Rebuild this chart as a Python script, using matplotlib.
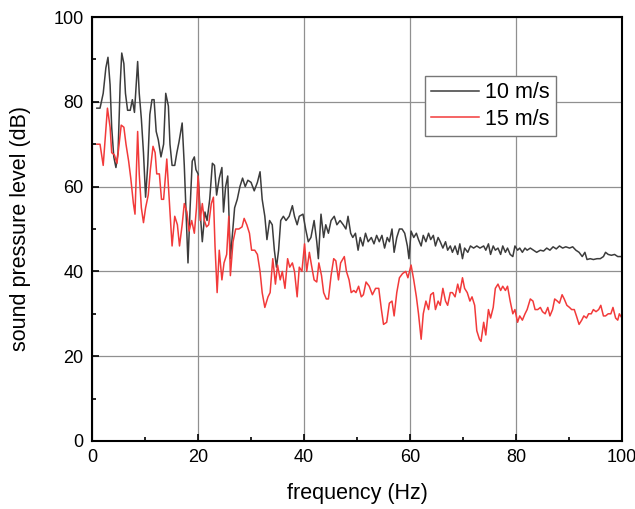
import matplotlib
matplotlib.use("Agg")
import matplotlib.pyplot as plt
from matplotlib.ticker import MultipleLocator

plt.rcParams['font.family'] = ['Liberation Sans', 'DejaVu Sans']

# 10 m/s
f10 = [0.9, 1.5, 2.1, 2.6, 3.0, 3.4, 3.7, 4.1, 4.5, 4.9, 5.3, 5.6, 6.0, 6.3, 6.7, 7.2, 7.6, 8.0,
       8.6, 8.9, 9.3, 9.7, 10.1, 10.5, 10.9, 11.3, 11.7, 12.1, 12.5, 13.0, 13.5, 13.9, 14.4, 14.7,
       15.1, 15.6, 16.0, 16.4, 17.0, 17.4, 17.7, 18.1, 18.5, 18.9, 19.3, 19.6, 20.0, 20.4, 20.8,
       21.3, 21.7, 22.2, 22.7, 23.1, 23.5, 24.0, 24.5, 24.8, 25.2, 25.6, 26.1, 26.5, 26.9, 27.4,
       27.9, 28.4, 28.9, 29.4, 30.0, 30.6, 31.2, 31.7, 32.1, 32.6, 33.0, 33.5, 34.0, 34.4, 34.8,
       35.2, 35.6, 36.1, 36.6, 37.2, 37.8, 38.2, 38.7, 39.1, 39.8, 40.3, 40.8, 41.3, 41.9, 42.4,
       42.7, 43.2, 43.7, 44.1, 44.6, 45.1, 45.7, 46.2, 46.8, 47.4, 47.9, 48.3, 48.8, 49.2, 49.7,
       50.2, 50.6, 51.1, 51.6, 52.1, 52.7, 53.2, 53.7, 54.2, 54.7, 55.2, 55.7, 56.1, 56.6, 57.0,
       57.5, 58.0, 58.5, 59.0, 59.5, 59.8, 60.2, 60.7, 61.2, 61.6, 62.1, 62.5, 63.0, 63.5, 63.9,
       64.4, 64.8, 65.3, 65.7, 66.2, 66.7, 67.1, 67.6, 68.0, 68.5, 69.0, 69.4, 69.9, 70.3, 70.9,
       71.4, 72.0, 72.6, 73.2, 73.9, 74.3, 74.8, 75.2, 75.7, 76.1, 76.6, 77.1, 77.5, 78.0, 78.4,
       78.9, 79.4, 79.8, 80.3, 80.7, 81.2, 81.7, 82.1, 82.7, 83.3, 83.9, 84.6, 85.2, 85.8, 86.4,
       87.0, 87.6, 88.2, 88.8, 89.4, 90.1, 90.7, 91.3, 91.9, 92.5, 93.0, 93.4, 94.0, 94.6, 95.3,
       95.9, 96.5, 96.9, 97.4, 98.0, 98.6, 99.2, 100.0]
spl10 = [78.5, 78.5, 82, 88, 90.5, 84, 74, 67, 64.5, 68, 84, 91.5, 89, 82, 78, 78, 80.5, 77.5,
         89.5, 82, 76, 68, 57.5, 65, 77, 80.5, 80.5, 73, 71, 67, 70, 82, 79, 70,
         65, 65, 68, 70.5, 75, 65, 55, 42, 55, 66, 67, 64, 63, 54, 47,
         54, 52, 57, 65.5, 65, 58, 62, 64.5, 54, 60, 62.5, 43, 49, 55, 57,
         60, 62, 60, 61.5, 61, 59, 61, 63.5, 57, 53, 47.5, 52, 51, 45, 41,
         45, 52, 53, 52, 53, 55.5, 53, 51, 53, 53.5, 50, 47, 48, 52, 47,
         43, 53.5, 48, 51, 49, 52, 53, 51, 52, 51, 50, 53, 49, 48, 49,
         45, 48, 46, 49, 47, 48, 46.5, 48.5, 47, 48.5, 45.5, 48, 47, 50, 44.5,
         48, 50, 50, 49, 46, 43, 49.5, 48, 49, 47.5, 46, 48.5, 47, 49, 47.5,
         48.5, 46, 48, 47, 45.5, 47, 45, 46, 44.5, 46, 44, 46.5, 43, 45.5, 44.5,
         46, 45.5, 46, 45.5, 46, 45, 46.5, 44, 46, 45, 45.5, 44, 46, 44.5, 45.5,
         44, 43.5, 46, 45, 45.5, 44.5, 45.5, 45, 45.5, 45, 44.5, 45, 44.8, 45.5, 45,
         45.8, 45.3, 46, 45.5, 45.8, 45.5, 45.8, 45, 44.5, 43.5, 44.5, 42.8, 43, 42.8, 43,
         43, 43.5, 44.5, 44, 43.8, 44, 43.5, 43.5]

# 15 m/s
f15 = [0.9, 1.5, 2.1, 2.4, 2.9, 3.4, 3.7, 4.2, 4.7, 5.1, 5.5, 6.0, 6.4, 6.9, 7.3, 7.8, 8.1, 8.6,
       8.9, 9.3, 9.7, 10.1, 10.6, 11.0, 11.5, 11.9, 12.2, 12.7, 13.1, 13.5, 14.1, 14.5, 14.8,
       15.1, 15.6, 16.1, 16.5, 17.0, 17.4, 17.9, 18.3, 18.8, 19.3, 19.7, 20.0, 20.4, 20.8, 21.2,
       21.6, 22.0, 22.5, 22.9, 23.2, 23.6, 24.0, 24.5, 24.9, 25.4, 25.8, 26.1, 26.6, 27.1, 27.7,
       28.3, 28.7, 29.2, 29.7, 30.1, 30.7, 31.2, 31.7, 32.1, 32.6, 33.2, 33.6, 34.1, 34.6, 35.0,
       35.5, 35.9, 36.4, 36.9, 37.3, 37.8, 38.2, 38.7, 39.1, 39.6, 40.1, 40.5, 41.0, 41.4, 41.9,
       42.4, 42.8, 43.3, 43.7, 44.2, 44.6, 45.1, 45.6, 46.0, 46.5, 46.9, 47.6, 48.0, 48.5, 48.9,
       49.4, 49.8, 50.3, 50.8, 51.2, 51.7, 52.3, 52.9, 53.5, 54.1, 54.6, 55.0, 55.6, 56.1, 56.6,
       57.0, 57.5, 58.0, 58.6, 59.2, 59.6, 60.2, 60.7, 61.2, 61.6, 62.1, 62.5, 63.0, 63.5, 63.9,
       64.4, 64.8, 65.3, 65.7, 66.2, 66.7, 67.1, 67.6, 68.0, 68.5, 69.0, 69.4, 69.9, 70.3, 70.8,
       71.3, 71.7, 72.2, 72.6, 73.1, 73.4, 73.9, 74.3, 74.8, 75.2, 75.7, 76.1, 76.6, 77.1, 77.5,
       78.0, 78.4, 78.9, 79.4, 79.8, 80.3, 80.7, 81.2, 81.7, 82.1, 82.7, 83.2, 83.6, 84.1, 84.6,
       85.0, 85.5, 86.0, 86.4, 86.9, 87.3, 87.8, 88.2, 88.7, 89.1, 89.6, 90.1, 90.5, 91.0, 91.4,
       91.9, 92.4, 92.8, 93.3, 93.7, 94.2, 94.6, 95.1, 95.6, 96.0, 96.5, 96.9, 97.4, 97.9, 98.3,
       98.8, 99.2, 99.5, 100.0]
spl15 = [70, 70, 65, 70, 78.5, 74, 68, 67.5, 65.5, 70, 74.5, 74, 70, 66, 62, 56, 53.5, 73,
         63, 55, 51.5, 55, 58, 64, 69.5, 68, 63, 63, 57, 57, 66.5, 58, 52,
         46, 53, 51, 46, 51, 56, 54, 49.5, 52, 49, 55, 62.5, 52, 56, 52,
         50.5, 51, 56, 57.5, 46, 35, 45, 38, 42, 44, 53, 39, 47, 50, 50,
         50.5, 52.5, 51, 49, 45, 45, 44, 40, 35, 31.5, 34, 35, 43, 37, 41.5,
         38, 40, 36, 43, 41, 42, 40, 34, 41, 40, 46.5, 40, 44.5, 41.5, 38,
         37.5, 42, 39, 35, 33.5, 33.5, 39, 43, 42.5, 38, 42, 43.5, 40, 38, 35,
         35.5, 35, 36.5, 34, 34.5, 37.5, 36.5, 34.5, 36, 36, 31, 27.5, 28, 32.5, 33,
         29.5, 35, 38.5, 39.5, 40, 38.5, 41.5, 38, 34, 30, 24, 30, 33, 31, 34.5,
         35, 31, 33, 32, 36, 33, 32, 35, 35, 34, 37, 35, 38.5, 36, 35,
         33, 34, 32, 26, 24, 23.5, 28, 25, 31, 29, 31.5, 36, 37, 35.5, 36.5,
         35.5, 36.5, 33, 30, 31, 28, 29.5, 28.5, 30, 31, 33.5, 33, 31, 31, 31.5,
         30.5, 30, 31.5, 29.5, 31, 33.5, 33, 32.5, 34.5, 33.5, 32, 31.5, 31, 31, 29.5,
         27.5, 28.5, 29.5, 29, 30, 30, 31, 30.5, 31, 32, 29.5, 29.5, 30, 30, 31.5,
         29, 28.5, 30, 29]

fig = plt.figure(figsize=(6.35, 5.09), dpi=100)
ax = fig.add_axes([0.145, 0.1336, 0.8345, 0.833])

ax.plot(f10, spl10, color='#3c3c3c', lw=1.1, label='10 m/s')
ax.plot(f15, spl15, color='#f23a3a', lw=1.1, label='15 m/s')

ax.set_xlim(0, 100)
ax.set_ylim(0, 100)
ax.xaxis.set_major_locator(MultipleLocator(20))
ax.xaxis.set_minor_locator(MultipleLocator(10))
ax.yaxis.set_major_locator(MultipleLocator(20))
ax.yaxis.set_minor_locator(MultipleLocator(10))
ax.tick_params(which='both', direction='in', labelsize=13, width=1.2, pad=6)
ax.tick_params(which='major', length=5)
ax.tick_params(which='minor', length=3)
ax.grid(True, which='major', color='#909090', lw=0.9)
for s in ax.spines.values():
    s.set_linewidth(1.5)

ax.set_xlabel('frequency (Hz)', fontsize=15.5, labelpad=12)
ax.set_ylabel('sound pressure level (dB)', fontsize=15.5, labelpad=16)

leg = ax.legend(loc='upper left', bbox_to_anchor=(0.628, 0.861), borderaxespad=0,
                fontsize=15.5, fancybox=False, framealpha=1, edgecolor='#777777',
                handlelength=2.2, borderpad=0.3, labelspacing=0.25, handletextpad=0.3)
leg.get_frame().set_linewidth(1.0)

fig.savefig('out.png', dpi=100)
